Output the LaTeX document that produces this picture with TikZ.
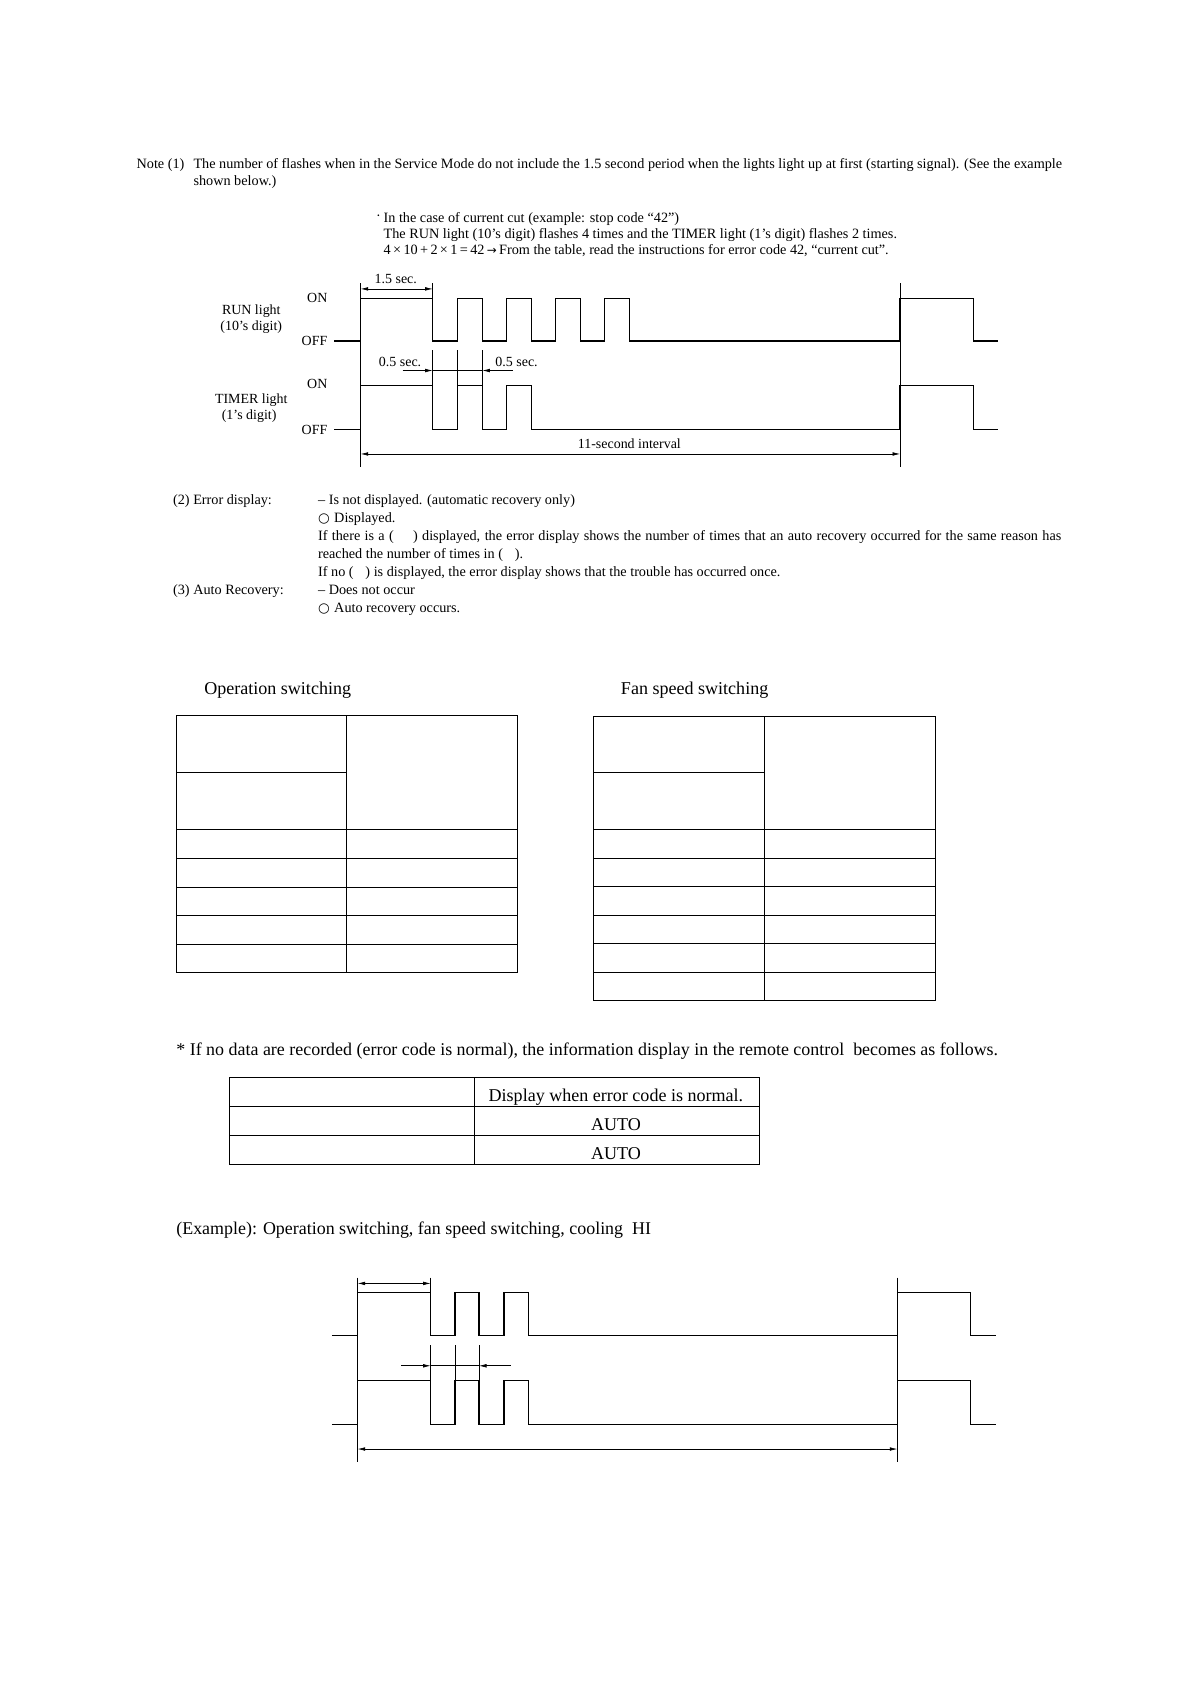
\documentclass[tikz,border=0pt]{standalone}
\usepackage{fontspec}
\setmainfont{Liberation Serif}
\newfontfamily\symfont{DejaVu Sans}
\usetikzlibrary{arrows.meta}
\newcommand{\wcirc}{{\symfont\fontsize{12.5}{15}\selectfont ○}}
\begin{document}
\begin{tikzpicture}[x=1pt,y=-1pt,
  sig/.style={line width=1.35pt, line join=miter},
  guide/.style={line width=0.6pt},
  dimarrow/.style={line width=0.6pt, {Latex[length=7pt,width=3.4pt]}-{Latex[length=7pt,width=3.4pt]}},
  rarrow/.style={line width=0.6pt, -{Latex[length=7pt,width=3.4pt]}},
  tbl/.style={line width=0.9pt},
  body/.style={font=\fontsize{13.25}{15}\selectfont, inner sep=0pt},
  lbl/.style={font=\fontsize{13}{15}\selectfont, inner sep=0pt},
  big/.style={font=\fontsize{16.8}{18}\selectfont, inner sep=0pt},
  bigline/.style={font=\fontsize{16.7}{18}\selectfont, inner sep=0pt}]
\useasboundingbox (0,0) rectangle (1109,1568);
\fill[white] (0,0) rectangle (1109,1568);

% ---------- header notes ----------
\node[body, anchor=base west] (n1) at (127,157) {Note (1)};
\node[body, anchor=base west] (n2) at (180,157) {The number of flashes when in the Service Mode do not include the 1.5 second period when the lights light up at first (starting signal). (See the example};
\node[body, anchor=base west] (n3) at (180,173) {shown below.)};
\node[body, anchor=base west] (b0) at (350,205) {·};
\node[body, anchor=base west] (b1) at (357,207) {In the case of current cut (example: stop code “42”)};
\node[body, anchor=base west] (b2) at (357,222) {The RUN light (10’s digit) flashes 4 times and the TIMER light (1’s digit) flashes 2 times.};
\node[body, anchor=base west] (b3) at (357,237) {4\,×\,10\,+\,2\,×\,1\,=\,42\,{\symfont\fontsize{11}{13}\selectfont →}\,From the table, read the instructions for error code 42, “current cut”.};

% ---------- timing diagram 1 ----------
\node[lbl, anchor=base] (runl1) at (234,293) {RUN light};
\node[lbl, anchor=base] (runl2) at (234,308) {(10’s digit)};
\node[lbl, anchor=base] (timl1) at (234,375.5) {TIMER light};
\node[lbl, anchor=base] (timl2) at (232,390.5) {(1’s digit)};
\node[lbl, anchor=base east] (on1) at (305,281.5) {ON};
\node[lbl, anchor=base east] (off1) at (305,322) {OFF};
\node[lbl, anchor=base east] (on2) at (305,362) {ON};
\node[lbl, anchor=base east] (off2) at (305,404.5) {OFF};

\draw[sig] (311,317.5) -- (335.8,317.5) -- (335.8,277.8) -- (402.9,277.8) -- (402.9,317.5)
  -- (426.2,317.5) -- (426.2,277.8) -- (449.1,277.8) -- (449.1,317.5)
  -- (471.8,317.5) -- (471.8,277.8) -- (494.7,277.8) -- (494.7,317.5)
  -- (517.4,317.5) -- (517.4,277.8) -- (540.3,277.8) -- (540.3,317.5)
  -- (563.0,317.5) -- (563.0,277.8) -- (585.9,277.8) -- (585.9,317.5)
  -- (838.1,317.5) -- (838.1,277.8) -- (906.3,277.8) -- (906.3,317.5) -- (929.6,317.5);
\draw[sig] (311,400.1) -- (335.8,400.1) -- (335.8,359.1) -- (402.9,359.1) -- (402.9,400.1)
  -- (426.2,400.1) -- (426.2,359.1) -- (449.1,359.1) -- (449.1,400.1)
  -- (471.8,400.1) -- (471.8,359.1) -- (494.7,359.1) -- (494.7,400.1)
  -- (838.1,400.1) -- (838.1,359.1) -- (906.3,359.1) -- (906.3,400.1) -- (929.6,400.1);

\draw[guide] (335.8,263.8) -- (335.8,434.5);
\draw[guide] (838.1,263.8) -- (838.1,434.5);
\draw[guide] (402.9,263.8) -- (402.9,277.8);
\draw[guide] (402.9,325.9) -- (402.9,359.1);
\draw[guide] (426.2,325.9) -- (426.2,359.1);
\draw[guide] (449.1,325.9) -- (449.1,359.1);

\coordinate (a15l) at (335.8,269);
\coordinate (a15r) at (402.9,269);
\draw[dimarrow] (a15l) -- (a15r);
\node[lbl, anchor=base] (l15) at (368.5,264) {1.5 sec.};

\coordinate (h0) at (374.9,345);
\coordinate (h1) at (402.9,345);
\coordinate (h2) at (449.1,345);
\coordinate (h3) at (477.4,345);
\draw[rarrow] (h0) -- (h1);
\draw[guide] (h1) -- (h2);
\draw[rarrow] (h3) -- (h2);
\node[lbl, anchor=base] (l05a) at (372.5,341) {0.5 sec.};
\node[lbl, anchor=base] (l05b) at (481,341) {0.5 sec.};

\coordinate (i0) at (335.8,422.7);
\coordinate (i1) at (838.1,422.7);
\draw[dimarrow] (i0) -- (i1);
\node[lbl, anchor=base] (l11) at (586,417.5) {11-second interval};

% ---------- sections (2) and (3) ----------
\node[body, anchor=base west] (s2) at (161,469.5) {(2) Error display:};
\node[body, anchor=base west] (s2a) at (296,469.5) {– Is not displayed. (automatic recovery only)};
\node[body, anchor=base west] (s2bc) at (296,486.3) {\wcirc};
\node[body, anchor=base west] (s2b) at (311,486.3) {Displayed.};
\node[body, anchor=base west] (s2c) at (296,503.1) {\makebox[692pt][s]{If there is a (\hspace{18pt}) displayed, the error display shows the number of times that an auto recovery occurred for the same reason has}};
\node[body, anchor=base west] (s2d) at (296,519.9) {reached the number of times in (\hspace{11pt}).};
\node[body, anchor=base west] (s2e) at (296,536.7) {If no (\hspace{11pt}) is displayed, the error display shows that the trouble has occurred once.};
\node[body, anchor=base west] (s3) at (161,553.5) {(3) Auto Recovery:};
\node[body, anchor=base west] (s3a) at (296,553.5) {– Does not occur};
\node[body, anchor=base west] (s3bc) at (296,570.3) {\wcirc};
\node[body, anchor=base west] (s3b) at (311,570.3) {Auto recovery occurs.};

% ---------- tables ----------
\node[big, anchor=base west] (opt) at (190,646.5) {Operation switching};
\node[big, anchor=base west] (fant) at (578,646.5) {Fan speed switching};

\draw[tbl] (164,666.4) rectangle (482,905.4);
\draw[tbl] (322.5,666.4) -- (322.5,905.4);
\draw[tbl] (164,719.2) -- (322.5,719.2);
\foreach \yy in {772.2,799.2,826.2,852.3,879.3} {\draw[tbl] (164,\yy) -- (482,\yy);}

\draw[tbl] (553,667.3) rectangle (871,931.8);
\draw[tbl] (712,667.3) -- (712,931.8);
\draw[tbl] (553,719.2) -- (712,719.2);
\foreach \yy in {772.2,799.2,825.6,852.3,878.4,905.4} {\draw[tbl] (553,\yy) -- (871,\yy);}

\node[bigline, anchor=base west] (star) at (164,982.4) {* If no data are recorded (error code is normal), the information display in the remote control\ \ becomes as follows.};

\draw[tbl] (214,1003.5) rectangle (707,1084.2);
\draw[tbl] (442,1003.5) -- (442,1084.2);
\draw[tbl] (214,1030.5) -- (707,1030.5);
\draw[tbl] (214,1057.5) -- (707,1057.5);
\node[big, anchor=base] (t3h) at (573.5,1025.2) {Display when error code is normal.};
\node[big, anchor=base] (t3a) at (573.5,1052.2) {AUTO};
\node[big, anchor=base] (t3b) at (573.5,1079.2) {AUTO};

\node[bigline, anchor=base west] (ex) at (164,1149) {(Example): Operation switching, fan speed switching, cooling\ \ HI};

% ---------- timing diagram 2 ----------
\draw[sig] (309.1,1243.7) -- (333,1243.7) -- (333,1203.4) -- (401,1203.4) -- (401,1243.7)
  -- (423.7,1243.7) -- (423.7,1203.4) -- (446,1203.4) -- (446,1243.7)
  -- (469.3,1243.7) -- (469.3,1203.4) -- (492,1203.4) -- (492,1243.7)
  -- (835.5,1243.7) -- (835.5,1203.4) -- (903.5,1203.4) -- (903.5,1243.7) -- (927.5,1243.7);
\draw[sig] (309.1,1326.6) -- (333,1326.6) -- (333,1285.6) -- (401,1285.6) -- (401,1326.6)
  -- (423.7,1326.6) -- (423.7,1285.6) -- (446,1285.6) -- (446,1326.6)
  -- (469.3,1326.6) -- (469.3,1285.6) -- (492,1285.6) -- (492,1326.6)
  -- (835.5,1326.6) -- (835.5,1285.6) -- (903.5,1285.6) -- (903.5,1326.6) -- (927.5,1326.6);

\draw[guide] (333,1189.7) -- (333,1361);
\draw[guide] (835.5,1189.7) -- (835.5,1361);
\draw[guide] (401,1189.7) -- (401,1203.4);
\draw[guide] (401,1252.4) -- (401,1285.6);
\draw[guide] (423.7,1252.4) -- (423.7,1285.6);
\draw[guide] (446,1252.4) -- (446,1285.6);

\coordinate (e15l) at (333,1195);
\coordinate (e15r) at (401,1195);
\draw[dimarrow] (e15l) -- (e15r);

\coordinate (g0) at (373.4,1271.7);
\coordinate (g1) at (401,1271.7);
\coordinate (g2) at (446,1271.7);
\coordinate (g3) at (475.5,1271.7);
\draw[rarrow] (g0) -- (g1);
\draw[guide] (g1) -- (g2);
\draw[rarrow] (g3) -- (g2);

\coordinate (j0) at (333,1349.2);
\coordinate (j1) at (835.5,1349.2);
\draw[dimarrow] (j0) -- (j1);
\end{tikzpicture}
\end{document}
